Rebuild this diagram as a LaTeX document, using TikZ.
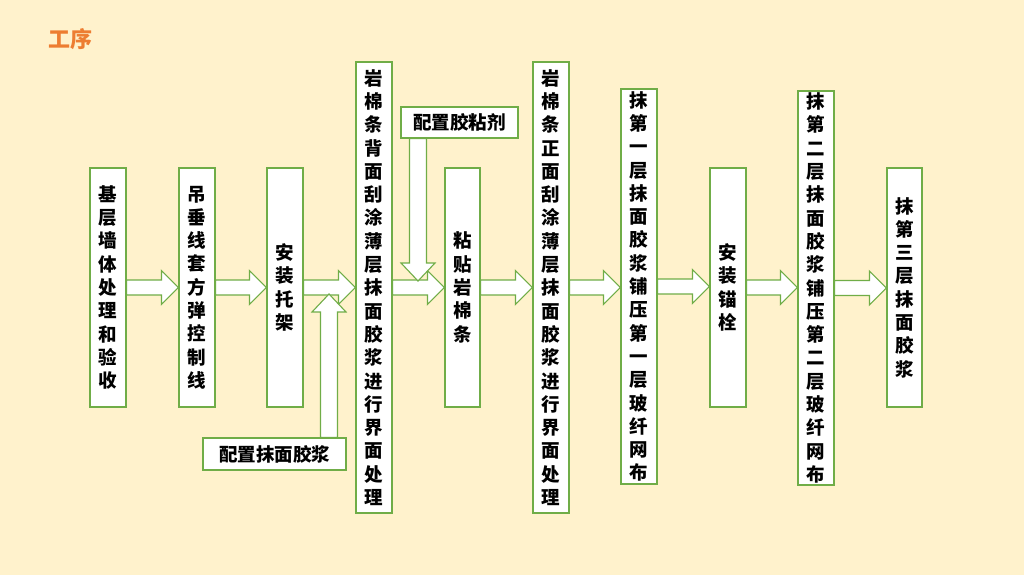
\documentclass[tikz,border=0pt]{standalone}
\usepackage{fontspec}
\newfontfamily\cjk{Noto Sans CJK SC}
\usetikzlibrary{calc}
\definecolor{paper}{HTML}{FFF2CC}
\definecolor{leaf}{HTML}{70AD47}
\definecolor{rust}{HTML}{ED7D31}

\begin{document}
\begin{tikzpicture}[x=1pt, y=-1pt,
    every node/.style={font=\cjk\bfseries\fontsize{18.5}{23.3}\selectfont},
    stepbox/.style={draw=leaf, fill=white, line width=1.1pt, minimum width=36pt, inner sep=0pt, align=center},
    flow/.style={draw=leaf, fill=white, line width=1.1pt,
        to path={let \p1=(\tikztostart), \p2=(\tikztotarget) in
            (\x1,\y1+7.5pt) -- (\x2-17pt,\y1+7.5pt) -- (\x2-17pt,\y1+17pt) -- (\x2,\y1)
            -- (\x2-17pt,\y1-17pt) -- (\x2-17pt,\y1-7.5pt) -- (\x1,\y1-7.5pt) -- cycle}},
    flowdown/.style={draw=leaf, fill=white, line width=1.1pt,
        to path={let \p1=(\tikztostart), \p2=(\tikztotarget) in
            (\x1-8.5pt,\y1) -- (\x1-8.5pt,\y2+18pt) -- (\x1-17pt,\y2+18pt) -- (\x2,\y2)
            -- (\x1+17pt,\y2+18pt) -- (\x1+8.5pt,\y2+18pt) -- (\x1+8.5pt,\y1) -- cycle}},
    flowup/.style={draw=leaf, fill=white, line width=1.1pt,
        to path={let \p1=(\tikztostart), \p2=(\tikztotarget) in
            (\x1-8.5pt,\y1) -- (\x1-8.5pt,\y2-18pt) -- (\x1-17pt,\y2-18pt) -- (\x2,\y2)
            -- (\x1+17pt,\y2-18pt) -- (\x1+8.5pt,\y2-18pt) -- (\x1+8.5pt,\y1) -- cycle}}]

    \fill[paper] (0,0) rectangle (1024,575);
    \useasboundingbox (0,0) rectangle (1024,575);

    % Title
    \node[text=rust, font=\cjk\bfseries\fontsize{22}{22}\selectfont] (title) at (70,39) {工序};

    % Steps
    \node[stepbox, minimum height=239pt] (wall) at (108,287.5) {基\\层\\墙\\体\\处\\理\\和\\验\\收};
    \node[stepbox, minimum height=239pt] (plumb) at (197,287.5) {吊\\垂\\线\\套\\方\\弹\\控\\制\\线};
    \node[stepbox, minimum height=239pt] (bracket) at (285,287.5) {安\\装\\托\\架};
    \node[stepbox, minimum height=451pt] (backcoat) at (374,287.5) {岩\\棉\\条\\背\\面\\刮\\涂\\薄\\层\\抹\\面\\胶\\浆\\进\\行\\界\\面\\处\\理};
    \node[stepbox, minimum height=239pt, minimum width=35pt] (stick) at (462.5,287.5) {粘\\贴\\岩\\棉\\条};
    \node[stepbox, minimum height=451pt] (frontcoat) at (551,287.5) {岩\\棉\\条\\正\\面\\刮\\涂\\薄\\层\\抹\\面\\胶\\浆\\进\\行\\界\\面\\处\\理};
    \node[stepbox, minimum height=395pt] (firstmesh) at (639,286.5) {抹\\第\\一\\层\\抹\\面\\胶\\浆\\铺\\压\\第\\一\\层\\玻\\纤\\网\\布};
    \node[stepbox, minimum height=239pt] (anchor) at (728,287.5) {安\\装\\锚\\栓};
    \node[stepbox, minimum height=394pt] (secondmesh) at (816,288) {抹\\第\\二\\层\\抹\\面\\胶\\浆\\铺\\压\\第\\二\\层\\玻\\纤\\网\\布};
    \node[stepbox, minimum height=239pt, minimum width=35pt] (finish) at (904.5,287.5) {抹\\第\\三\\层\\抹\\面\\胶\\浆};

    % Side materials
    \node[stepbox, minimum width=117pt, minimum height=31pt] (glue) at (459.5,122.5) {配置胶粘剂};
    \node[stepbox, minimum width=143pt, minimum height=32pt] (mortar) at (274.5,454) {配置抹面胶浆};
    \coordinate (gluetip) at (418,281);
    \coordinate (mortartip) at (329,294);

    % Arrows
    \draw[flow] (wall.east) to (plumb.west);
    \draw[flow] (plumb.east) to (bracket.west);
    \draw[flow] (bracket.east) to (backcoat.west);
    \draw[flow] (backcoat.east) to (stick.west);
    \draw[flow] (stick.east) to (frontcoat.west);
    \draw[flow] (frontcoat.east) to (firstmesh.west);
    \draw[flow] (firstmesh.east) to (anchor.west);
    \draw[flow] (anchor.east) to (secondmesh.west);
    \draw[flow] (secondmesh.east) to (finish.west);

    \draw[flowdown] (gluetip |- glue.south) to (gluetip);
    \draw[flowup] (mortartip |- mortar.north) to (mortartip);

\end{tikzpicture}
\end{document}
